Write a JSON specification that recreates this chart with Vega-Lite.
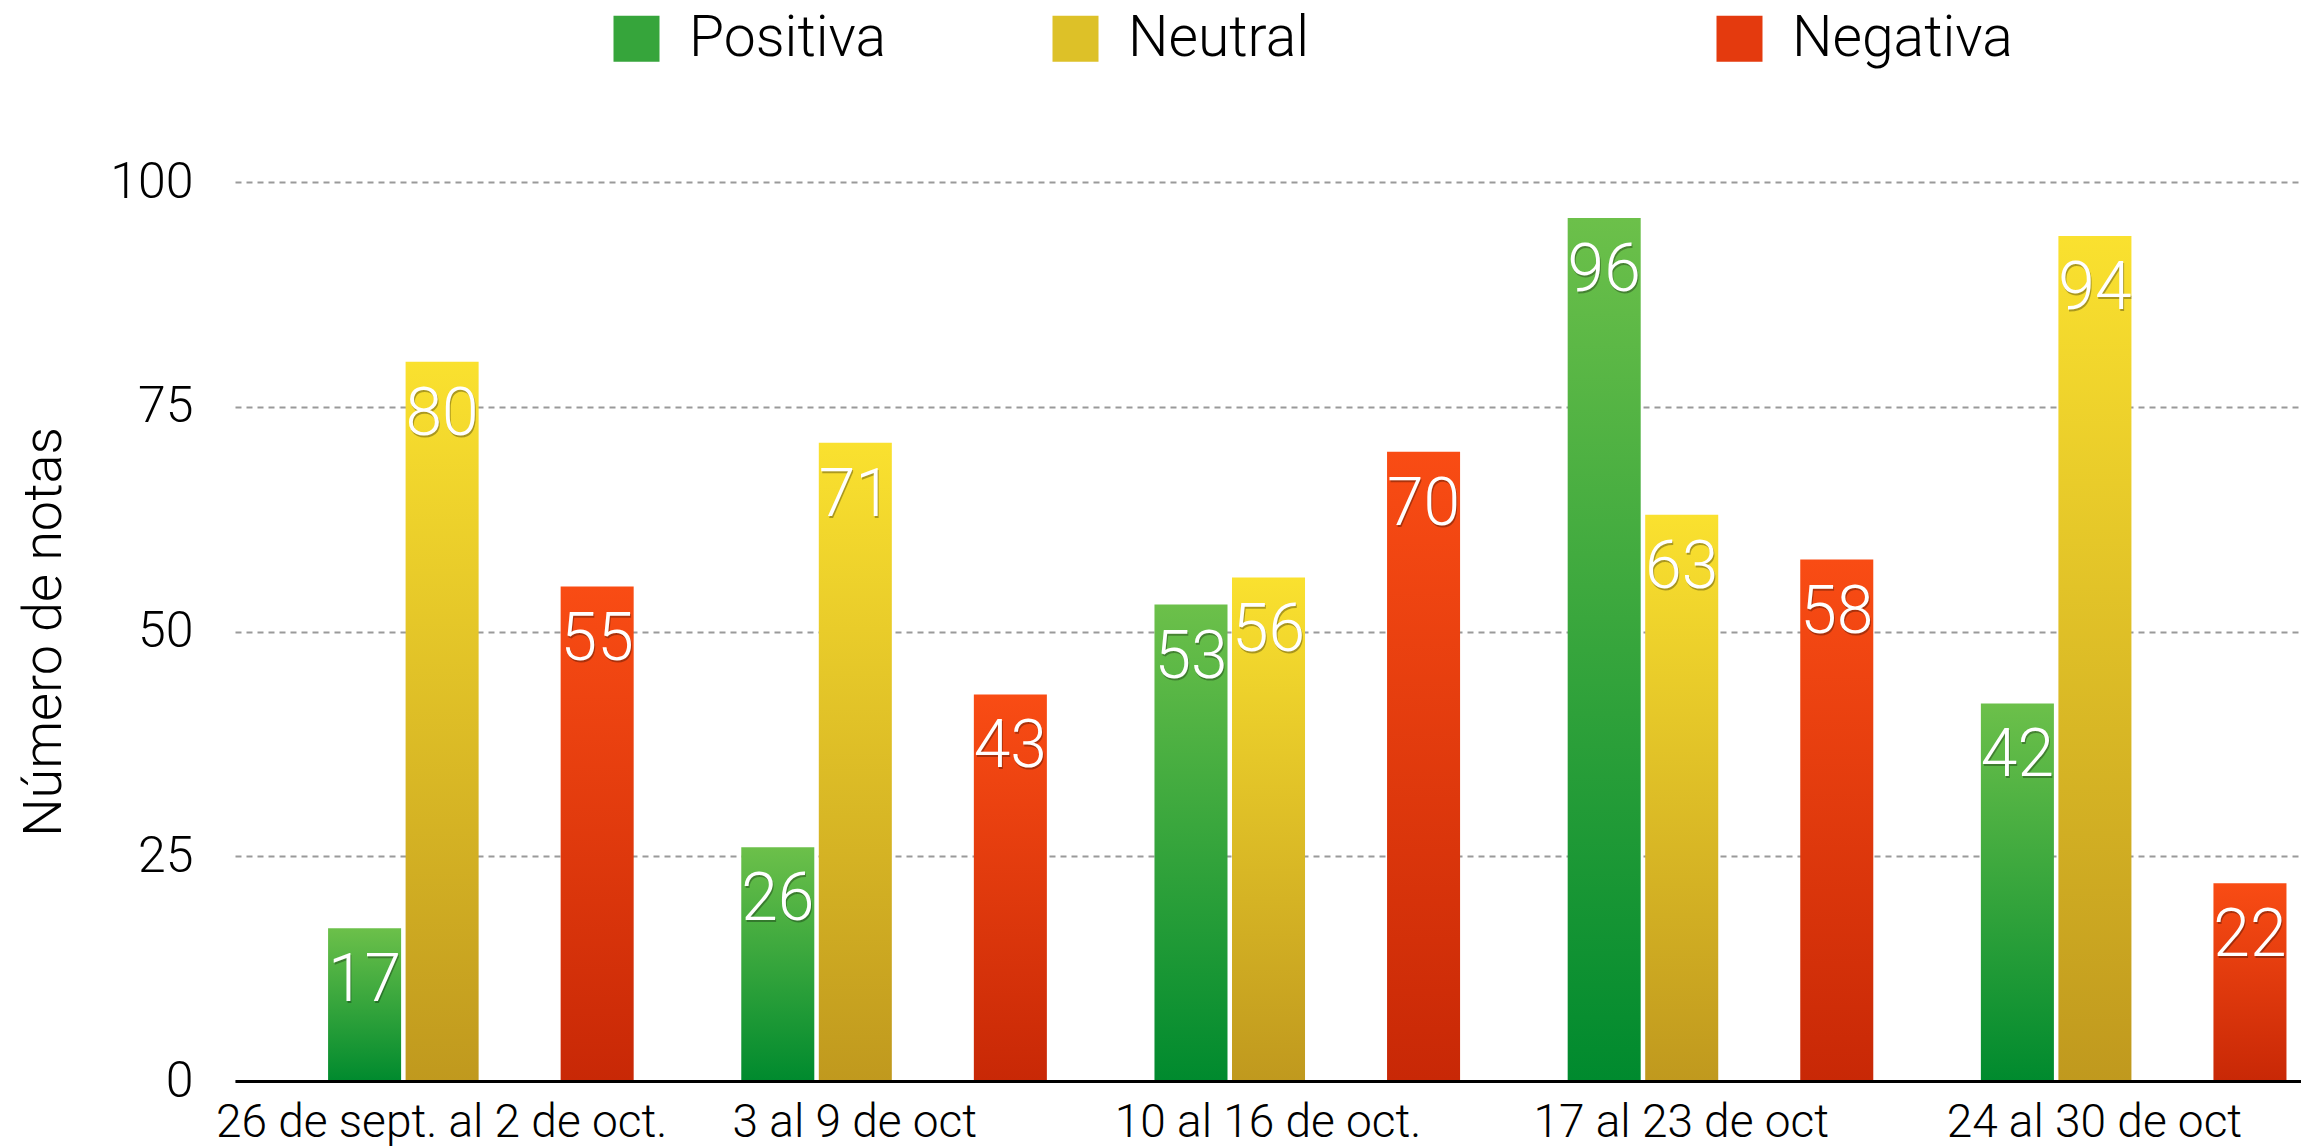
{
  "$schema": "https://vega.github.io/schema/vega-lite/v6.json",
  "width": 2066,
  "height": 899,
  "autosize": {"type": "none"},
  "padding": {"left": 235, "top": 182, "right": 0, "bottom": 65},
  "background": "white",
  "config": {"view": {"stroke": null}, "font": "Roboto"},
  "data": {
    "values": [
      {"semana": "26 de sept. al 2 de oct.", "serie": "Positiva", "valor": 17},
      {"semana": "26 de sept. al 2 de oct.", "serie": "Neutral", "valor": 80},
      {"semana": "26 de sept. al 2 de oct.", "serie": "Negativa", "valor": 55},
      {"semana": "3 al 9 de oct", "serie": "Positiva", "valor": 26},
      {"semana": "3 al 9 de oct", "serie": "Neutral", "valor": 71},
      {"semana": "3 al 9 de oct", "serie": "Negativa", "valor": 43},
      {"semana": "10 al 16 de oct.", "serie": "Positiva", "valor": 53},
      {"semana": "10 al 16 de oct.", "serie": "Neutral", "valor": 56},
      {"semana": "10 al 16 de oct.", "serie": "Negativa", "valor": 70},
      {"semana": "17 al 23 de oct", "serie": "Positiva", "valor": 96},
      {"semana": "17 al 23 de oct", "serie": "Neutral", "valor": 63},
      {"semana": "17 al 23 de oct", "serie": "Negativa", "valor": 58},
      {"semana": "24 al 30 de oct", "serie": "Positiva", "valor": 42},
      {"semana": "24 al 30 de oct", "serie": "Neutral", "valor": 94},
      {"semana": "24 al 30 de oct", "serie": "Negativa", "valor": 22}
    ]
  },
  "encoding": {
    "x": {
      "field": "semana",
      "type": "nominal",
      "sort": ["26 de sept. al 2 de oct.", "3 al 9 de oct", "10 al 16 de oct.", "17 al 23 de oct", "24 al 30 de oct"],
      "scale": {"paddingInner": 0, "paddingOuter": 0},
      "axis": {
        "title": null,
        "labelAngle": 0,
        "labelFontSize": 46,
        "labelFontWeight": 300,
        "labelColor": "black",
        "labelPadding": 19,
        "ticks": false,
        "domainColor": "black",
        "domainWidth": 3,
        "grid": false,
        "zindex": 1,
        "labelLimit": 0
      }
    },
    "xOffset": {
      "field": "serie",
      "type": "nominal",
      "scale": {"domain": ["Positiva", "Neutral", "_", "Negativa"], "paddingInner": 0.058, "paddingOuter": 0.694, "align": 0.865}
    },
    "y": {
      "field": "valor",
      "type": "quantitative",
      "stack": null,
      "scale": {"domain": [0, 100], "nice": false},
      "axis": {
        "title": "Número de notas",
        "titleFontSize": 54,
        "titleFontWeight": 300,
        "titleColor": "black",
        "titleX": -175,
        "titleY": 449.5,
        "titleAngle": -90,
        "titleBaseline": "alphabetic",
        "titleAlign": "center",
        "values": [0, 25, 50, 75, 100],
        "labelFontSize": 50,
        "labelFontWeight": 300,
        "labelColor": "black",
        "labelPadding": 42,
        "ticks": false,
        "domain": false,
        "grid": true,
        "gridColor": "#9a9a9a",
        "gridWidth": 2,
        "gridDash": [6, 5]
      }
    }
  },
  "layer": [
    {
      "mark": {"type": "bar", "opacity": 0},
      "encoding": {
        "color": {
          "field": "serie",
          "type": "nominal",
          "scale": {
            "domain": ["Positiva", "Neutral", "_", "Negativa"],
            "range": ["#36a53b", "#ddc128", "transparent", "#e43a0e"]
          },
          "legend": {
            "title": null,
            "orient": "none",
            "legendX": 373,
            "legendY": -172,
            "direction": "horizontal",
            "symbolType": "square",
            "symbolSize": 2116,
            "symbolStrokeWidth": 0,
            "symbolOpacity": 1,
            "labelOffset": 24,
            "columnPadding": 160,
            "labelFontSize": 57,
            "labelFontWeight": 300,
            "labelColor": "black",
            "labelLimit": 0,
            "padding": 0,
            "labelExpr": "datum.label == '_' ? '' : datum.label"
          }
        }
      }
    },
    {
      "transform": [{"filter": "datum.serie == 'Positiva'"}],
      "mark": {"type": "bar", "color": {"gradient": "linear", "x1": 0, "y1": 0, "x2": 0, "y2": 1, "stops": [{"offset": 0, "color": "#6cc04a"}, {"offset": 1, "color": "#008a2e"}]}}
    },
    {
      "transform": [{"filter": "datum.serie == 'Neutral'"}],
      "mark": {"type": "bar", "color": {"gradient": "linear", "x1": 0, "y1": 0, "x2": 0, "y2": 1, "stops": [{"offset": 0, "color": "#fae12f"}, {"offset": 1, "color": "#c0991e"}]}}
    },
    {
      "transform": [{"filter": "datum.serie == 'Negativa'"}],
      "mark": {"type": "bar", "color": {"gradient": "linear", "x1": 0, "y1": 0, "x2": 0, "y2": 1, "stops": [{"offset": 0, "color": "#f94c14"}, {"offset": 1, "color": "#c82806"}]}}
    },
    {
      "mark": {"type": "text", "baseline": "alphabetic", "dy": 75, "dx": 1, "fontSize": 66, "fontWeight": 300, "fill": "black", "opacity": 0.3},
      "encoding": {"text": {"field": "valor", "type": "quantitative"}}
    },
    {
      "mark": {"type": "text", "baseline": "alphabetic", "dy": 73, "fontSize": 66, "fontWeight": 300, "fill": "white"},
      "encoding": {"text": {"field": "valor", "type": "quantitative"}}
    }
  ]
}
